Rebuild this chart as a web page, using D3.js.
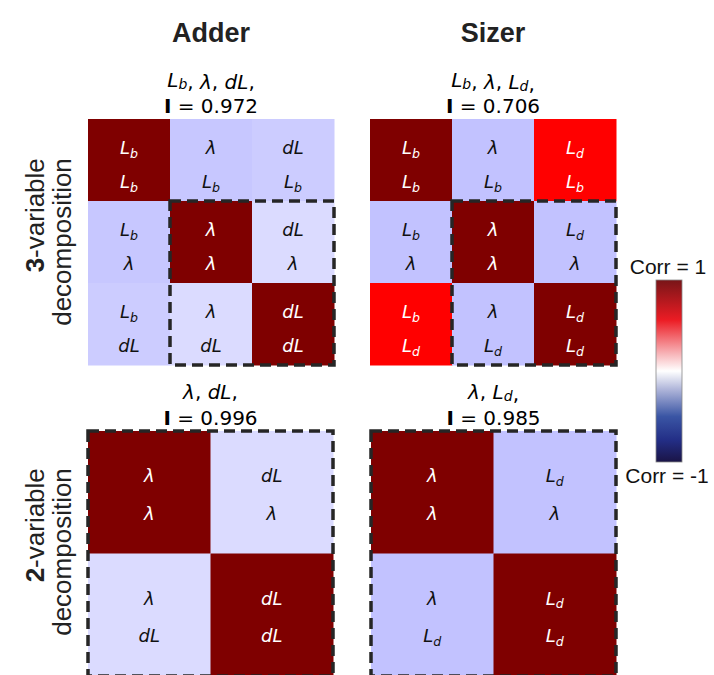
<!DOCTYPE html>
<html><head><meta charset="utf-8">
<script src="https://cdn.jsdelivr.net/npm/d3@7"></script>
<style>body{margin:0;background:#fff}</style>
</head><body>
<svg id="c" width="714" height="675"></svg>
<script>
const colHeaders = ["Adder", "Sizer"];
const rowHeaders = [["3", "-variable", "decomposition"], ["2", "-variable", "decomposition"]];
const adder3Vars = ["L_b", "λ", "dL"];
const adder3Corr = [[1, -0.11, -0.10], [-0.11, 1, -0.07], [-0.10, -0.07, 1]];
const sizer3Vars = ["L_b", "λ", "L_d"];
const sizer3Corr = [[1, -0.12, 0.5], [-0.12, 1, -0.12], [0.5, -0.12, 1]];
const adder2Vars = ["λ", "dL"];
const adder2Corr = [[1, -0.07], [-0.07, 1]];
const sizer2Vars = ["λ", "L_d"];
const sizer2Corr = [[1, -0.12], [-0.12, 1]];
const scores = ["0.972", "0.706", "0.996", "0.985"];
const cbLabels = ["Corr = 1", "Corr = -1"];

const svg = d3.select("#c");
const color = d3.scaleLinear().domain([-1, -0.5, 0, 0.5, 1])
  .range(["#00004c", "#0000ff", "#ffffff", "#ff0000", "#7f0000"]);

const panels = [
  {vars: adder3Vars, corr: adder3Corr, score: scores[0], x0: 88, y0: 119, size: 246, box: [1, 2], f1: 0.352, f2: 0.765},
  {vars: sizer3Vars, corr: sizer3Corr, score: scores[1], x0: 370, y0: 119, size: 246, box: [1, 2], f1: 0.352, f2: 0.765},
  {vars: adder2Vars, corr: adder2Corr, score: scores[2], x0: 88, y0: 431, size: 245, box: [0, 1], f1: 0.366, f2: 0.67},
  {vars: sizer2Vars, corr: sizer2Corr, score: scores[3], x0: 371, y0: 431, size: 245, box: [0, 1], f1: 0.366, f2: 0.67}
];

function addVar(t, v, size, shift) {
  const parts = v.split("_");
  t.append("tspan").attr("font-style", "italic").text(parts[0]);
  if (parts.length > 1) {
    t.append("tspan").attr("font-style", "italic").attr("font-size", size * 0.7)
      .attr("dy", size * shift).text(parts[1]);
    t.append("tspan").attr("dy", -size * shift).text("");
  }
}

panels.forEach(p => {
  const n = p.vars.length;
  const xs = d3.scaleBand().domain(d3.range(n)).range([p.x0, p.x0 + p.size]);
  const ys = d3.scaleBand().domain(d3.range(n)).range([p.y0, p.y0 + p.size]);
  const g = svg.append("g");
  const cells = [];
  for (let r = 0; r < n; r++) for (let c = 0; c < n; c++) cells.push({r, c, v: p.corr[r][c]});
  g.selectAll("rect.cell").data(cells).join("rect").attr("class", "cell")
    .attr("x", d => xs(d.c)).attr("y", d => ys(d.r))
    .attr("width", xs.bandwidth() + 0.5).attr("height", ys.bandwidth() + 0.5)
    .attr("fill", d => color(d.v));
  const fs = 18;
  cells.forEach(d => {
    const cx = xs(d.c) + xs.bandwidth() / 2;
    const fill = d.v > 0.3 ? "#fff" : "#111";
    [[p.vars[d.c], p.f1], [p.vars[d.r], p.f2]].forEach(([v, f]) => {
      const t = g.append("text").attr("x", cx).attr("y", ys(d.r) + ys.bandwidth() * f + 6.5)
        .attr("text-anchor", "middle").attr("font-family", "DejaVu Sans")
        .attr("font-size", fs).attr("fill", fill);
      addVar(t, v, fs, 0.2);
    });
  });
  g.append("rect")
    .attr("x", xs(p.box[0])).attr("y", ys(p.box[0]))
    .attr("width", xs(p.box[1]) + xs.bandwidth() - xs(p.box[0]))
    .attr("height", ys(p.box[1]) + ys.bandwidth() - ys(p.box[0]))
    .attr("fill", "none").attr("stroke", "#262626").attr("stroke-width", 3.5)
    .attr("stroke-dasharray", "11,6");
  const cx = p.x0 + p.size / 2;
  const tfs = 20;
  const t1 = svg.append("text").attr("x", cx).attr("y", p.y0 - 32)
    .attr("text-anchor", "middle").attr("font-family", "DejaVu Sans").attr("font-size", tfs).attr("fill", "#000");
  p.vars.forEach((v, i) => {
    addVar(t1, v, tfs, 0.1);
    t1.append("tspan").text(i < n - 1 ? ", " : ",");
  });
  const t2 = svg.append("text").attr("x", cx).attr("y", p.y0 - 6)
    .attr("text-anchor", "middle").attr("font-family", "DejaVu Sans").attr("font-size", tfs).attr("fill", "#000");
  t2.append("tspan").attr("font-weight", "900").text("I");
  t2.append("tspan").text(" = " + p.score);
});

[211, 493].forEach((x, i) => {
  svg.append("text").attr("x", x).attr("y", 42).attr("text-anchor", "middle")
    .attr("font-family", "Liberation Sans, Arial, sans-serif").attr("font-weight", "bold")
    .attr("font-size", 27).attr("fill", "#222").text(colHeaders[i]);
});

[242, 552].forEach((cy, i) => {
  const h = rowHeaders[i];
  const t2 = svg.append("text").attr("text-anchor", "end")
    .attr("font-family", "Liberation Sans, Arial, sans-serif")
    .attr("font-size", 26).attr("fill", "#222").text(h[2]);
  const L = t2.node().getComputedTextLength();
  const top = cy - L / 2;
  t2.attr("transform", `translate(71,${top}) rotate(-90)`);
  const t = svg.append("text").attr("transform", `translate(44,${top}) rotate(-90)`)
    .attr("text-anchor", "end").attr("font-family", "Liberation Sans, Arial, sans-serif")
    .attr("font-size", 26).attr("fill", "#222");
  t.append("tspan").attr("font-weight", "bold").text(h[0]);
  t.append("tspan").text(h[1]);
});

const cbStops = [
  [0, "#781518"], [0.22, "#ec1c24"], [0.4, "#f7b0b4"], [0.5, "#ffffff"],
  [0.6, "#b0b6da"], [0.75, "#3a55a4"], [0.88, "#232e86"], [1, "#1a1446"]
];
const defs = svg.append("defs");
const grad = defs.append("linearGradient").attr("id", "cb").attr("x1", 0).attr("x2", 0).attr("y1", 0).attr("y2", 1);
grad.selectAll("stop").data(cbStops).join("stop")
  .attr("offset", d => d[0]).attr("stop-color", d => d[1]);
const cbScale = d3.scaleLinear().domain([1, -1]).range([280, 462]);
svg.append("rect").attr("x", 656).attr("y", cbScale(1)).attr("width", 26)
  .attr("height", cbScale(-1) - cbScale(1)).attr("fill", "url(#cb)")
  .attr("stroke", "#888").attr("stroke-width", 0.8);
svg.append("text").attr("x", 668).attr("y", cbScale(1) - 6).attr("text-anchor", "middle")
  .attr("font-family", "Liberation Sans, Arial, sans-serif").attr("font-size", 21).attr("fill", "#111").text(cbLabels[0]);
svg.append("text").attr("x", 667).attr("y", cbScale(-1) + 21).attr("text-anchor", "middle")
  .attr("font-family", "Liberation Sans, Arial, sans-serif").attr("font-size", 21).attr("fill", "#111").text(cbLabels[1]);
</script>
</body></html>
